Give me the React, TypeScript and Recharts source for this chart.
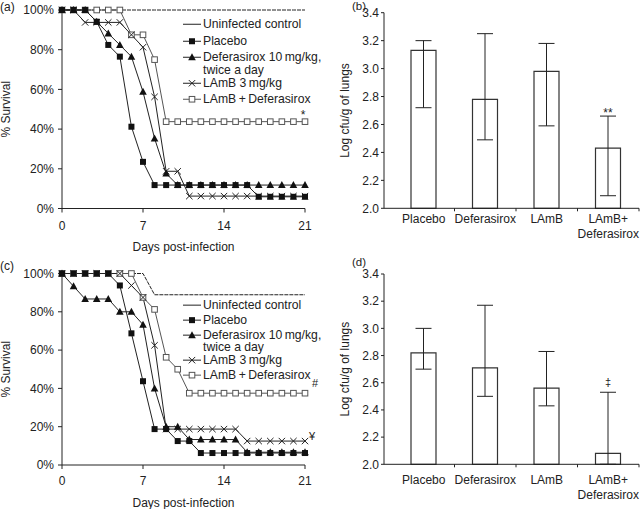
import React from 'react'
import { LineChart, Line, XAxis, YAxis, Legend, BarChart, Bar, ErrorBar } from 'recharts'

const FONT = '"Liberation Sans", Arial, sans-serif'
const INK = '#222'

// survival curves, one value per day
const days = [0, 1, 2, 3, 4, 5, 6, 7, 8, 9, 10, 11, 12, 13, 14, 15, 16, 17, 18, 19, 20, 21]
const dayTicks = [0, 7, 14, 21]
const pctTicks = [0, 20, 40, 60, 80, 100]

// panel (a)
const aControl = [100, 100, 100, 100, 100, 100, 100, 100, 100, 100, 100, 100, 100, 100, 100, 100, 100, 100, 100, 100, 100, 100]
const aPlacebo = [100, 100, 100, 94.1, 82.4, 76.5, 41.2, 23.5, 11.8, 11.8, 11.8, 11.8, 11.8, 11.8, 11.8, 11.8, 11.8, 5.9, 5.9, 5.9, 5.9, 5.9]
const aDefer = [100, 100, 100, 94.1, 88.2, 82.4, 76.5, 58.8, 35.3, 17.6, 11.8, 11.8, 11.8, 11.8, 11.8, 11.8, 11.8, 11.8, 11.8, 11.8, 11.8, 11.8]
const aLamb = [100, 100, 93.75, 93.75, 93.75, 93.75, 87.5, 81.25, 56.25, 18.75, 18.75, 6.25, 6.25, 6.25, 6.25, 6.25, 6.25, 6.25, 6.25, 6.25, 6.25, 6.25]
const aCombo = [100, 100, 100, 100, 100, 100, 87.5, 87.5, 75, 43.75, 43.75, 43.75, 43.75, 43.75, 43.75, 43.75, 43.75, 43.75, 43.75, 43.75, 43.75, 43.75]

// panel (c)
const cControl = [100, 100, 100, 100, 100, 100, 100, 100, 88.9, 88.9, 88.9, 88.9, 88.9, 88.9, 88.9, 88.9, 88.9, 88.9, 88.9, 88.9, 88.9, 88.9]
const cPlacebo = [100, 100, 100, 100, 100, 93.75, 68.75, 43.75, 18.75, 18.75, 12.5, 12.5, 6.25, 6.25, 6.25, 6.25, 6.25, 6.25, 6.25, 6.25, 6.25, 6.25]
const cDefer = [100, 93.3, 86.7, 86.7, 86.7, 80, 80, 73.3, 40, 20, 20, 13.3, 13.3, 13.3, 13.3, 13.3, 6.67, 6.67, 6.67, 6.67, 6.67, 6.67]
const cLamb = [100, 100, 100, 100, 100, 100, 93.75, 87.5, 62.5, 18.75, 18.75, 18.75, 18.75, 18.75, 18.75, 18.75, 12.5, 12.5, 12.5, 12.5, 12.5, 12.5]
const cCombo = [100, 100, 100, 100, 100, 100, 100, 87.5, 81.25, 56.25, 50, 37.5, 37.5, 37.5, 37.5, 37.5, 37.5, 37.5, 37.5, 37.5, 37.5, 37.5]

// lung burden bars
const groups = ['Placebo', 'Deferasirox', 'LAmB', 'LAmB+\nDeferasirox']
const logTicks = [2.0, 2.2, 2.4, 2.6, 2.8, 3.0, 3.2, 3.4]
const bMean = [3.13, 2.78, 2.98, 2.43]
const bHigh = [3.2, 3.25, 3.18, 2.66]
const bLow = [2.72, 2.49, 2.59, 2.09]
const dMean = [2.82, 2.71, 2.56, 2.08]
const dHigh = [3.0, 3.17, 2.83, 2.53]
const dLow = [2.7, 2.5, 2.43, 2.0]

type Kind = 'none' | 'square' | 'triangle' | 'cross' | 'open'

function Marker({ kind, cx, cy }: { kind: Kind; cx: number; cy: number }) {
  if (cx == null || cy == null) return null
  if (kind === 'square') return <rect x={cx - 3} y={cy - 3} width={6} height={6} fill="#111" />
  if (kind === 'triangle')
    return <polygon points={`${cx},${cy - 4} ${cx - 3.8},${cy + 3} ${cx + 3.8},${cy + 3}`} fill="#111" />
  if (kind === 'cross')
    return (
      <g stroke={INK} strokeWidth={1}>
        <line x1={cx - 3.2} y1={cy - 3.2} x2={cx + 3.2} y2={cy + 3.2} />
        <line x1={cx - 3.2} y1={cy + 3.2} x2={cx + 3.2} y2={cy - 3.2} />
      </g>
    )
  if (kind === 'open')
    return <rect x={cx - 2.8} y={cy - 2.8} width={5.6} height={5.6} fill="#fff" stroke="#555" strokeWidth={1} />
  return null
}

const dotOf = (kind: Kind) => (p: any) => <Marker key={`${kind}-${p.index}`} kind={kind} cx={p.cx} cy={p.cy} />

const legendRows: { name: string[]; kind: Kind }[] = [
  { name: ['Uninfected control'], kind: 'none' },
  { name: ['Placebo'], kind: 'square' },
  { name: ['Deferasirox 10\u2009mg/kg,', 'twice a day'], kind: 'triangle' },
  { name: ['LAmB 3\u2009mg/kg'], kind: 'cross' },
  { name: ['LAmB\u2009+\u2009Deferasirox'], kind: 'open' },
]

function SurvivalLegend({ lineH, gap, wrapGap }: { lineH: number; gap: number; wrapGap: number }) {
  return (
    <div style={{ fontFamily: FONT, fontSize: 12.2, color: INK, whiteSpace: 'nowrap' }}>
      {legendRows.map((r, i) => (
        <div key={i} style={{ display: 'flex', alignItems: 'flex-start', marginBottom: r.name.length > 1 ? wrapGap : gap }}>
          <svg width={20} height={lineH} style={{ display: 'block' }}>
            <line x1={0} y1={lineH / 2} x2={18} y2={lineH / 2} stroke={r.kind === 'open' ? '#555' : INK} />
            <Marker kind={r.kind} cx={9} cy={lineH / 2} />
          </svg>
          <div style={{ lineHeight: `${lineH}px` }}>
            {r.name.map((t, j) => (
              <div key={j}>{t}</div>
            ))}
          </div>
        </div>
      ))}
    </div>
  )
}

function SurvivalChart(props: {
  rows: any[]
  height: number
  top: number
  xHeight: number
  bottom: number
  xTickMargin: number
  xLabelOffset: number
  legendTop: number
  lineH: number
  gap: number
  wrapGap: number
}) {
  const { rows, height, top, xHeight, bottom, xTickMargin, xLabelOffset, legendTop, lineH, gap, wrapGap } = props
  return (
    <LineChart width={330} height={height} data={rows} margin={{ top, right: 25, bottom, left: 0 }}>
      <XAxis
        dataKey="day"
        type="number"
        domain={[0, 21]}
        ticks={dayTicks}
        height={xHeight}
        tickSize={4}
        tickMargin={xTickMargin}
        stroke={INK}
        tick={{ fill: INK, fontSize: 12 }}
        label={{ value: 'Days post-infection', position: 'insideBottom', offset: xLabelOffset, fill: INK, fontSize: 12 }}
      />
      <YAxis
        type="number"
        domain={[0, 100]}
        ticks={pctTicks}
        tickFormatter={(v: number) => `${v}%`}
        width={62}
        tickSize={4}
        tickMargin={4}
        stroke={INK}
        tick={{ fill: INK, fontSize: 12 }}
        label={{
          value: '% Survival',
          angle: -90,
          position: 'insideLeft',
          offset: 6,
          fill: INK,
          fontSize: 12,
          style: { textAnchor: 'middle' },
        }}
      />
      <Legend
        layout="vertical"
        align="center"
        verticalAlign="middle"
        wrapperStyle={{ left: 183, top: legendTop, width: 'auto' }}
        content={() => <SurvivalLegend lineH={lineH} gap={gap} wrapGap={wrapGap} />}
      />
      <Line dataKey="control" stroke={INK} strokeWidth={1} strokeDasharray="4 1" dot={false} isAnimationActive={false} />
      <Line dataKey="combo" stroke="#555" strokeWidth={1} dot={dotOf('open')} isAnimationActive={false} />
      <Line dataKey="lamb" stroke={INK} strokeWidth={1} dot={dotOf('cross')} isAnimationActive={false} />
      <Line dataKey="defer" stroke={INK} strokeWidth={1} dot={dotOf('triangle')} isAnimationActive={false} />
      <Line dataKey="placebo" stroke={INK} strokeWidth={1} dot={dotOf('square')} isAnimationActive={false} />
    </LineChart>
  )
}

function GroupTick(props: any) {
  const { x, y, payload, gap } = props
  const half = payload && payload.offset != null ? payload.offset : 30.75
  const lines = String(payload.value).split('\n')
  return (
    <g>
      <line x1={x + half} y1={y} x2={x + half} y2={y + 3} stroke={INK} />
      <text x={x} y={y + gap} textAnchor="middle" fontSize={12} fill={INK} fontFamily={FONT}>
        {lines.map((l, i) => (
          <tspan key={i} x={x} dy={i === 0 ? 0 : 15}>
            {l}
          </tspan>
        ))}
      </text>
    </g>
  )
}

function LungChart(props: { rows: any[]; height: number; top: number; xHeight: number; labelGap: number }) {
  const { rows, height, top, xHeight, labelGap } = props
  return (
    <BarChart width={310} height={height} data={rows} margin={{ top, right: 1, bottom: 0, left: 0 }}>
      <XAxis
        dataKey="group"
        height={xHeight}
        padding={{ left: 9, right: 0 }}
        tickLine={false}
        tickSize={0}
        tickMargin={0}
        stroke={INK}
        interval={0}
        tick={<GroupTick gap={labelGap} />}
      />
      <YAxis
        type="number"
        domain={[2.0, 3.4]}
        ticks={logTicks}
        tickFormatter={(v: number) => v.toFixed(1)}
        width={54}
        tickSize={3}
        tickMargin={2}
        stroke={INK}
        tick={{ fill: INK, fontSize: 12 }}
        label={{
          value: 'Log cfu/g of lungs',
          angle: -90,
          position: 'insideLeft',
          offset: 15,
          fill: INK,
          fontSize: 12,
          style: { textAnchor: 'middle' },
        }}
      />
      <Bar dataKey="mean" fill="#fff" stroke="#333" strokeWidth={1.2} barSize={25} isAnimationActive={false}>
        <ErrorBar dataKey="err" width={8} stroke={INK} strokeWidth={1} direction="y" />
      </Bar>
    </BarChart>
  )
}

export default function App() {
  const aRows = days.map((day, i) => ({
    day,
    control: aControl[i],
    placebo: aPlacebo[i],
    defer: aDefer[i],
    lamb: aLamb[i],
    combo: aCombo[i],
  }))
  const cRows = days.map((day, i) => ({
    day,
    control: cControl[i],
    placebo: cPlacebo[i],
    defer: cDefer[i],
    lamb: cLamb[i],
    combo: cCombo[i],
  }))
  const bRows = groups.map((group, i) => ({ group, mean: bMean[i], err: [bMean[i] - bLow[i], bHigh[i] - bMean[i]] }))
  const dRows = groups.map((group, i) => ({ group, mean: dMean[i], err: [dMean[i] - dLow[i], dHigh[i] - dMean[i]] }))

  const note = { fontFamily: FONT, fontSize: 12, fill: INK }

  return (
    <div style={{ position: 'absolute', left: 0, top: 0, width: 640, height: 509, background: '#fff', fontFamily: FONT }}>
      <div style={{ position: 'absolute', left: 0, top: 0 }}>
        <SurvivalChart rows={aRows} height={255} top={10} xHeight={45} bottom={1.5} xTickMargin={9} xLabelOffset={3} legendTop={18} lineH={12.5} gap={4.2} wrapGap={0.2} />
      </div>
      <div style={{ position: 'absolute', left: 0, top: 255 }}>
        <SurvivalChart rows={cRows} height={254} top={18.5} xHeight={42} bottom={2} xTickMargin={7} xLabelOffset={0} legendTop={44} lineH={12.3} gap={2.7} wrapGap={0.4} />
      </div>
      <div style={{ position: 'absolute', left: 330, top: 0 }}>
        <LungChart rows={bRows} height={255} top={12.7} xHeight={46.7} labelGap={14.3} />
      </div>
      <div style={{ position: 'absolute', left: 330, top: 255 }}>
        <LungChart rows={dRows} height={254} top={19} xHeight={44.7} labelGap={20} />
      </div>
      <svg width={640} height={509} style={{ position: 'absolute', left: 0, top: 0, pointerEvents: 'none' }}>
        <text x={0} y={11} {...note}>(a)</text>
        <text x={352} y={10} {...note} fontSize={11.5}>(b)</text>
        <text x={0} y={270} {...note}>(c)</text>
        <text x={352} y={266} {...note} fontSize={11.5}>(d)</text>
        <text x={303} y={119} textAnchor="middle" {...note}>*</text>
        <text x={608} y={117} textAnchor="middle" {...note}>**</text>
        <text x={315} y={387} textAnchor="middle" {...note} fontSize={11}>#</text>
        <text x={312} y={440} textAnchor="middle" {...note} fontSize={11}>¥</text>
        <text x={608} y={386} textAnchor="middle" {...note} fontSize={11}>‡</text>
      </svg>
    </div>
  )
}
